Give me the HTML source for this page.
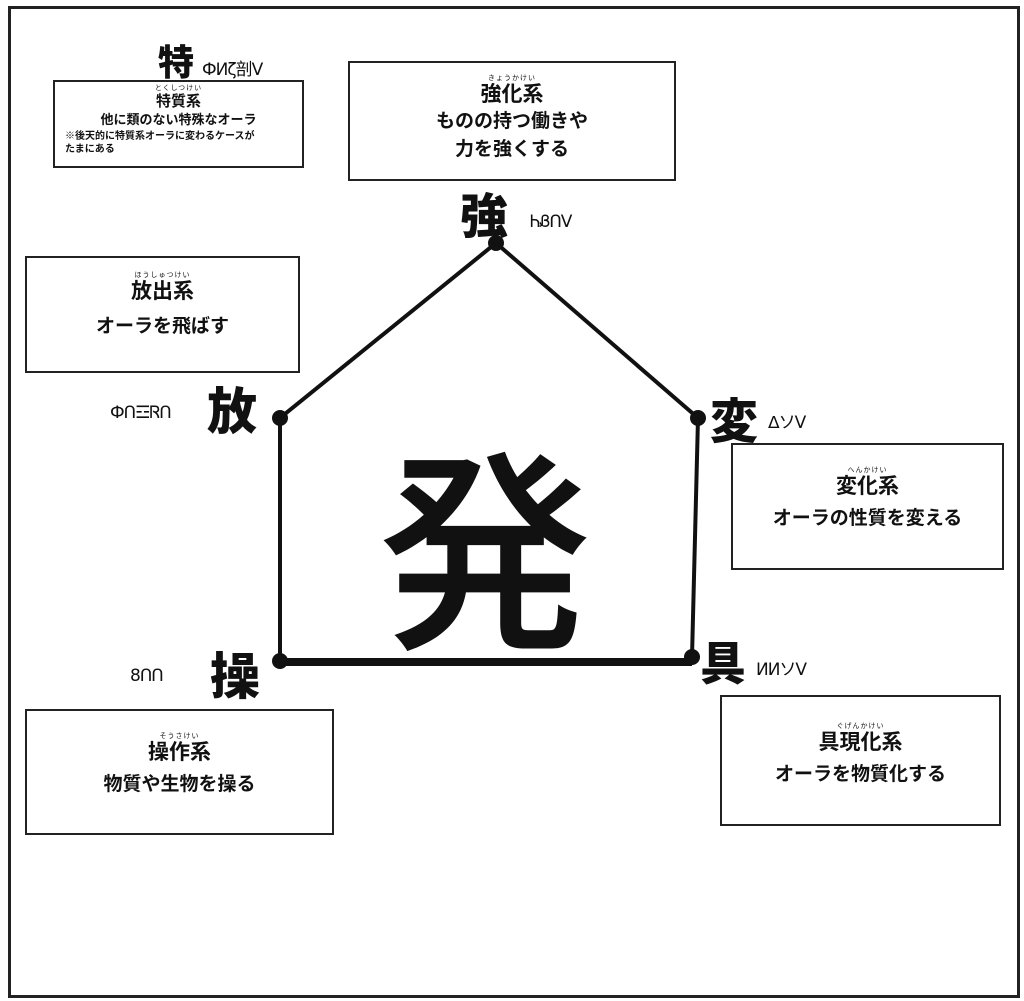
<!DOCTYPE html>
<html><head><meta charset="utf-8"><style>
body{margin:0;width:1024px;height:1001px;background:#fff;position:relative;overflow:hidden;font-family:"Liberation Sans","Noto Sans CJK JP",sans-serif;color:#111}
.frame{position:absolute;left:8px;top:6px;width:1006px;height:986px;border:3px solid #222}
.box{position:absolute;border:2px solid #222;box-sizing:border-box;text-align:center;font-weight:bold}
.box .t{font-size:21px;line-height:24px}
.box .d{font-size:19px;line-height:30px}
.rb{font-size:7px;line-height:8px;font-weight:normal;letter-spacing:1px}
.k{position:absolute;font-weight:900;font-family:"Noto Sans CJK JP",sans-serif;line-height:1}
.s{position:absolute;font-size:17px;letter-spacing:-1px;font-family:"DejaVu Sans",sans-serif}
</style></head><body>
<div class="frame"></div>
<svg style="position:absolute;left:0;top:0" width="1024" height="1001">
<polyline points="280,661 280,418 496,243 698,418 692,657" fill="none" stroke="#111" stroke-width="4"/>
<line x1="280" y1="662" x2="692" y2="662" stroke="#111" stroke-width="8"/>
<g fill="#111"><circle cx="496" cy="243" r="8"/><circle cx="280" cy="418" r="8"/><circle cx="698" cy="418" r="8"/><circle cx="280" cy="661" r="8"/><circle cx="692" cy="657" r="8"/></g>
</svg>
<div class="box" style="left:53px;top:80px;width:251px;height:88px">
<div class="rb" style="margin-top:3px">とくしつけい</div><div style="font-size:15px;line-height:17px">特質系</div>
<div style="font-size:13px;line-height:20px">他に類のない特殊なオーラ</div>
<div style="font-size:10px;line-height:13px;text-align:left;padding-left:10px">※後天的に特質系オーラに変わるケースが<br>たまにある</div></div>
<div class="box" style="left:348px;top:61px;width:328px;height:120px">
<div class="rb" style="margin-top:12px">きょうかけい</div><div class="t">強化系</div>
<div class="d">ものの持つ働きや</div><div class="d" style="line-height:26px">力を強くする</div></div>
<div class="box" style="left:25px;top:256px;width:275px;height:117px">
<div class="rb" style="margin-top:14px">ほうしゅつけい</div><div class="t">放出系</div>
<div class="d" style="margin-top:8px">オーラを飛ばす</div></div>
<div class="box" style="left:731px;top:443px;width:273px;height:127px">
<div class="rb" style="margin-top:22px">へんかけい</div><div class="t">変化系</div>
<div class="d" style="margin-top:5px">オーラの性質を変える</div></div>
<div class="box" style="left:25px;top:709px;width:309px;height:126px">
<div class="rb" style="margin-top:22px">そうさけい</div><div class="t">操作系</div>
<div class="d" style="margin-top:5px">物質や生物を操る</div></div>
<div class="box" style="left:720px;top:695px;width:281px;height:131px">
<div class="rb" style="margin-top:26px">ぐげんかけい</div><div class="t">具現化系</div>
<div class="d" style="margin-top:5px">オーラを物質化する</div></div>
<div class="k" style="left:158px;top:42px;font-size:36px">特</div>
<div class="s" style="left:202px;top:55px">ФИζ剖Ⅴ</div>
<div class="k" style="left:460px;top:188px;font-size:48px">強</div>
<div class="s" style="left:530px;top:212px">ᏂᏰՈV</div>
<div class="k" style="left:207px;top:383px;font-size:50px">放</div>
<div class="s" style="left:110px;top:403px">ФՈ☲ᏒՈ</div>
<div class="k" style="left:710px;top:393px;font-size:48px">変</div>
<div class="s" style="left:768px;top:408px">ᐃソV</div>
<div class="k" style="left:210px;top:648px;font-size:50px">操</div>
<div class="s" style="left:130px;top:666px">8ՈՈ</div>
<div class="k" style="left:700px;top:638px;font-size:46px">具</div>
<div class="s" style="left:756px;top:655px">ИИソV</div>
<div class="k" style="left:378px;top:432px;font-size:214px;font-weight:500">発</div>
</body></html>
